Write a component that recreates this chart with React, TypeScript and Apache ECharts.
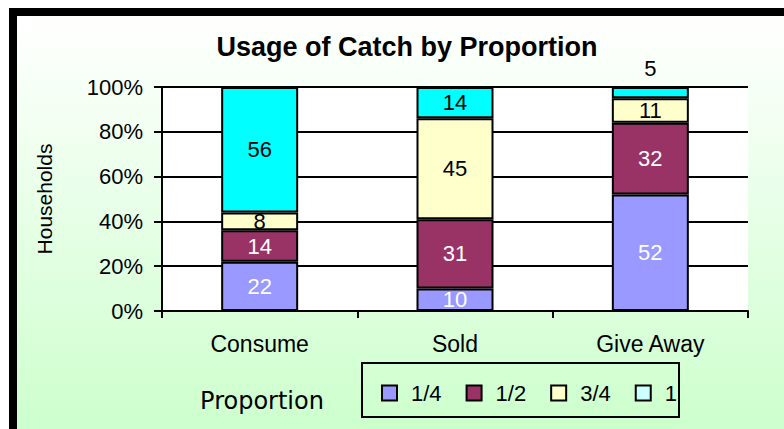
import React, { useEffect, useRef } from "react";
import * as echarts from "echarts";

const categories = ["Consume", "Sold", "Give Away"];
const seriesNames = ["1/4", "1/2", "3/4", "1"];
const quarter = [22, 10, 52];
const half = [14, 31, 32];
const threeQuarter = [8, 45, 11];
const full = [56, 14, 5];
const yTicks = ["0%", "20%", "40%", "60%", "80%", "100%"];

const barColors = ["#9999FF", "#993366", "#FFFFCC", "#00FFFF"];
const legendColors = ["#9999FF", "#993366", "#FFFFCC", "#CCFFFF"];
const labelColors = ["#ffffff", "#ffffff", "#000000", "#000000"];

export default function App() {
  const ref = useRef<HTMLDivElement>(null);
  useEffect(() => {
    if (!ref.current) return;
    const chart = echarts.init(ref.current, undefined, { renderer: "svg" });
    const values = [quarter, half, threeQuarter, full];
    const series = seriesNames.map((name, i) => ({
      name,
      type: "bar",
      stack: "total",
      barWidth: 77,
      data: values[i].map((v, j) => {
        const outside = i === 3 && j === 2;
        return outside
          ? { value: v, label: { position: "top", distance: 8, color: "#000" } }
          : v;
      }),
      itemStyle: { color: barColors[i], borderColor: "#000", borderWidth: 2 },
      label: {
        show: true,
        position: "inside",
        color: labelColors[i],
        fontFamily: "Arial, 'Liberation Sans', sans-serif",
        fontSize: 22,
      },
    }));
    chart.setOption({
      animation: false,
      backgroundColor: "transparent",
      title: {
        text: "Usage of Catch by Proportion",
        left: 402,
        top: 28,
        textAlign: "center",
        textStyle: {
          fontFamily: "Arial, 'Liberation Sans', sans-serif",
          fontSize: 27,
          fontWeight: "bold",
          color: "#000",
        },
      },
      grid: { left: 162, right: 36, top: 87, bottom: 118 },
      xAxis: {
        type: "category",
        data: categories,
        axisLine: { lineStyle: { color: "#000", width: 2 } },
        axisTick: { show: true, length: 7, alignWithLabel: false, lineStyle: { color: "#000", width: 2 } },
        axisLabel: {
          margin: 21,
          color: "#000",
          fontSize: 23,
          fontFamily: "Arial, 'Liberation Sans', sans-serif",
        },
      },
      yAxis: {
        type: "value",
        min: 0,
        max: 100,
        interval: 20,
        name: "Households",
        nameLocation: "middle",
        nameRotate: 90,
        nameGap: 107,
        nameTextStyle: {
          fontSize: 21,
          color: "#000",
          fontFamily: "Arial, 'Liberation Sans', sans-serif",
        },
        axisLine: { show: true, lineStyle: { color: "#000", width: 2 } },
        axisTick: { show: true, length: 8, lineStyle: { color: "#000", width: 2 } },
        axisLabel: {
          margin: 19,
          color: "#000",
          fontSize: 22,
          fontFamily: "Arial, 'Liberation Sans', sans-serif",
          formatter: (v: number) => yTicks[Math.round(v / 20)] ?? "",
        },
        splitLine: { show: true, lineStyle: { color: "#000", width: 2 } },
        splitArea: { show: true, areaStyle: { color: ["#ffffff"] } },
      },
      legend: {
        left: 376,
        top: 377,
        itemWidth: 15,
        itemHeight: 15,
        itemGap: 24,
        icon: "rect",
        data: seriesNames.map((n, i) => ({
          name: n,
          itemStyle: { color: legendColors[i], borderColor: "#000", borderWidth: 2 },
        })),
        textStyle: {
          fontSize: 22,
          lineHeight: 22,
          color: "#000",
          padding: [0, 0, 0, 9],
          fontFamily: "Arial, 'Liberation Sans', sans-serif",
        },
      },
      graphic: [
        {
          type: "rect",
          shape: { x: 362, y: 363, width: 317, height: 54 },
          style: { fill: "none", stroke: "#000", lineWidth: 2 },
        },
        {
          type: "text",
          x: 262,
          y: 401,
          style: {
            text: "Proportion",
            fontSize: 24,
            fontFamily: "'Comic Sans MS', 'DejaVu Sans', sans-serif",
            fill: "#000",
            align: "center",
            verticalAlign: "middle",
          },
        },
      ],
      series,
    });
    return () => chart.dispose();
  }, []);

  return (
    <div style={{ position: "fixed", left: 0, top: 0, width: 784, height: 429, overflow: "hidden", background: "#fff" }}>
      <div
        style={{
          position: "absolute",
          left: 9,
          top: 8,
          width: 820,
          height: 460,
          borderLeft: "8px solid #000",
          borderTop: "8px solid #000",
          background: "linear-gradient(to bottom, #ffffff 0%, #ccffcc 420px, #ccffcc 100%)",
        }}
      />
      <div ref={ref} style={{ position: "absolute", left: 0, top: 0, width: 784, height: 429 }} />
    </div>
  );
}
